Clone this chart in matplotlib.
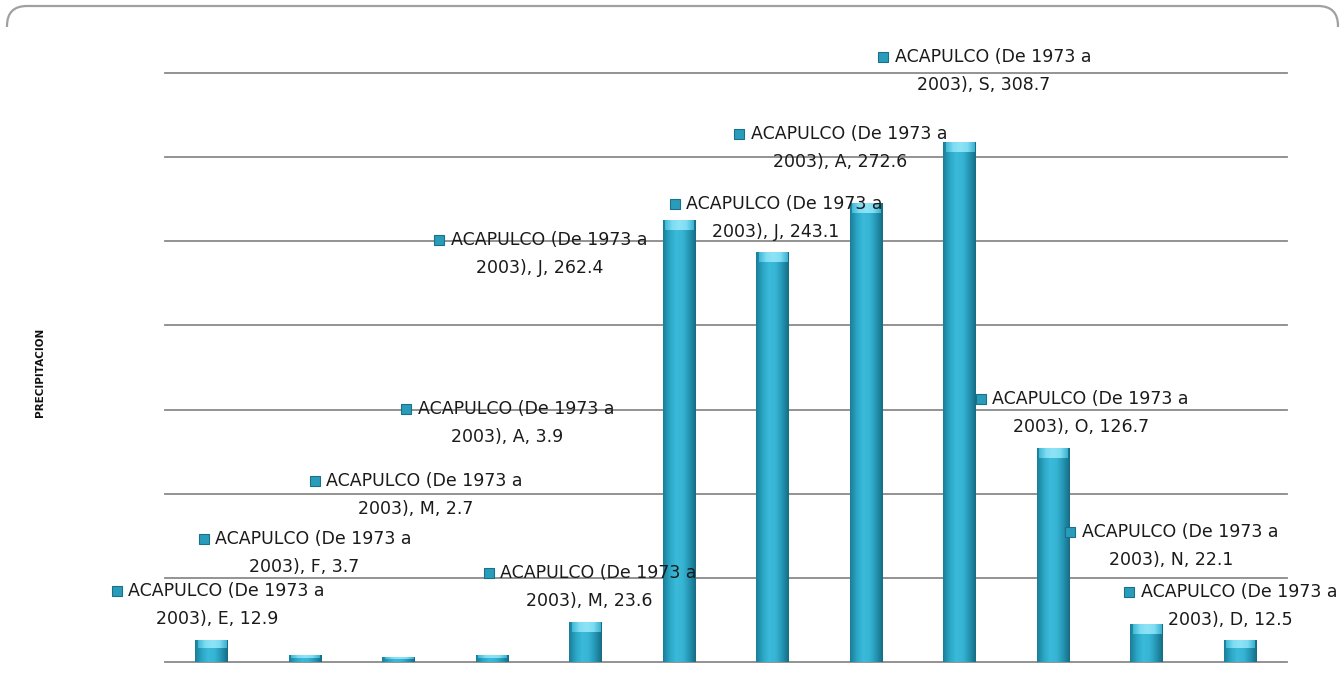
import matplotlib.pyplot as plt
import numpy as np
from matplotlib.patches import FancyBboxPatch
from matplotlib.colors import LinearSegmentedColormap
from matplotlib.transforms import IdentityTransform, Bbox, ScaledTranslation

meses = ['E', 'F', 'M', 'A', 'M', 'J', 'J', 'A', 'S', 'O', 'N', 'D']
precip = [12.9, 3.7, 2.7, 3.9, 23.6, 262.4, 243.1, 272.6, 308.7, 126.7, 22.1, 12.5]
serie = 'ACAPULCO (De 1973 a'
serie2 = '2003)'

# where each data label sits (x in bar units, y in mm)
etq_x = [0.06, 0.99, 2.18, 3.16, 4.04, 3.51, 6.03, 6.72, 8.26, 9.30, 10.26, 10.89]
etq_y = [33.9, 64.8, 99.2, 142.0, 44.6, 242.4, 263.8, 305.4, 351.2, 148.0, 68.9, 33.3]

W, H = 1343, 696
fig = plt.figure(figsize=(W / 100, H / 100), dpi=100)
fig.patch.set_facecolor('white')

# rounded chart-area border, only its top edge shows
marco = FancyBboxPatch((7, -60), W - 12, H - 6 + 60,
                       boxstyle='round,pad=0,rounding_size=20',
                       transform=IdentityTransform(), fc='none', ec='#a0a0a0', lw=1.6)
marco.set_clip_box(Bbox.from_extents(0, H - 27, W, H))
fig.patches.append(marco)

ax = fig.add_axes([165 / W, 34 / H, (1287 - 165) / W, (662 - 73) / H])
for s in ax.spines.values():
    s.set_visible(False)
ax.set_xticks([])
ax.set_yticks([])
for g in range(0, 351, 50):
    ax.axhline(g, color='#8a8a8a', lw=1.3, zorder=1, clip_on=False)

cmap = LinearSegmentedColormap.from_list('cil', ['#1b7e98', '#2ba6c6', '#3bbad9', '#37b4d4', '#2596b4', '#166c84'])
grad = np.linspace(0, 1, 64).reshape(1, -1)
tapa_cmap = LinearSegmentedColormap.from_list('tapa', ['#3fb9d6', '#7fdcf2', '#8ee3f6', '#7fdcf2', '#3ab2cf'])
ancho = 0.35
for i, v in enumerate(precip):
    x0 = i - ancho / 2
    ax.imshow(grad, cmap=cmap, aspect='auto', extent=(x0, x0 + ancho, 0, v), zorder=2,
              interpolation='bilinear')
    tapa = min(5.5, v * 0.35)
    ax.imshow(grad, cmap=tapa_cmap, aspect='auto',
              extent=(x0 + 0.025, x0 + ancho - 0.025, v - tapa, v), zorder=3,
              interpolation='bilinear')
ax.set_xlim(-0.5, 11.5)
ax.set_ylim(0, 350)

# data labels: two lines, small series square before the first one
fs = 12.5
fig.canvas.draw()
ren = fig.canvas.get_renderer()
for i, v in enumerate(precip):
    cx, cy = etq_x[i], etq_y[i]
    t1 = ax.annotate(serie, (cx, cy), xytext=(0, 0), textcoords='offset pixels',
                     ha='left', va='center', fontsize=fs, color='#1a1a1a',
                     annotation_clip=False, zorder=5)
    w = t1.get_window_extent(ren).width
    izq = -(w + 18) / 2
    t1.set_position((izq + 18, 14))
    ax.annotate(f'{serie2}, {meses[i]}, {v}', (cx, cy), xytext=(0, -14), textcoords='offset pixels',
                ha='center', va='center', fontsize=fs, color='#1a1a1a',
                annotation_clip=False, zorder=5)
    ax.plot([cx], [cy], marker='s', ms=7.5, mfc='#2a9cbb', mec='#1d6f87', mew=0.8,
            transform=ax.transData + ScaledTranslation((izq + 6.5) / 100, 14 / 100, fig.dpi_scale_trans),
            clip_on=False, zorder=5)

fig.text(40 / W, 1 - 372 / H, 'PRECIPITACION', rotation=90, ha='center', va='center',
         fontsize=7.5, fontweight='bold', color='#111111')

fig.savefig('out.png', dpi=100)
